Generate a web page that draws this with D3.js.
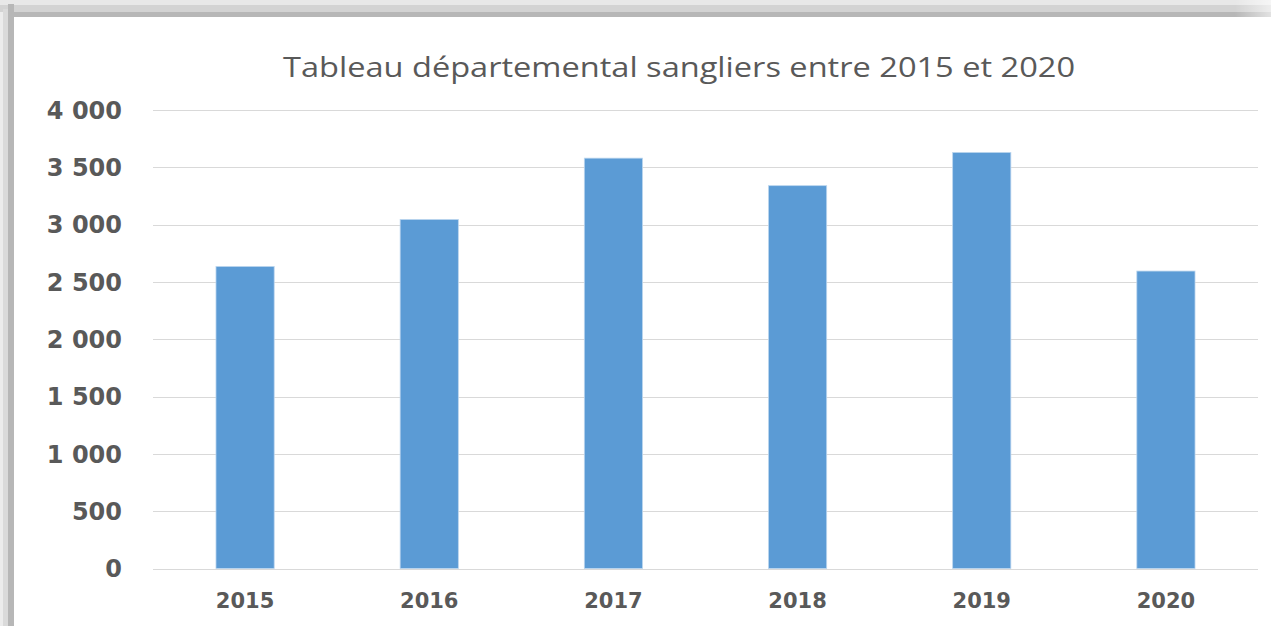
<!DOCTYPE html>
<html lang="fr">
<head>
  <meta charset="UTF-8">
  <title>Tableau départemental sangliers entre 2015 et 2020</title>
  <script src="https://d3js.org/d3.v7.min.js"></script>
  <style>
    html, body {
      margin: 0;
      padding: 0;
      background: #fff;
      overflow: hidden;
    }
    .chart-title {
      font-family: 'Open Sans', sans-serif;
      font-size: 28px;
      fill: #595959;
      text-anchor: middle;
    }
    .axis-label {
      font-family: 'DejaVu Sans', Verdana, sans-serif;
      font-weight: bold;
      fill: #595959;
    }
  </style>
</head>
<body>
  <svg width="1271" height="626"></svg>

  <script>
    // data
    const years = ["2015", "2016", "2017", "2018", "2019", "2020"];
    const sangliers = [2635, 3045, 3580, 3340, 3630, 2595];
    const yTicks = [0, 500, 1000, 1500, 2000, 2500, 3000, 3500, 4000];

    const svg = d3.select("svg"),
      width = +svg.attr("width"),
      height = +svg.attr("height");

    // frame shadow (top and left edges)
    const frame = svg.append("g");
    [[0, 5, "#e8e8e8"], [5, 7, "#d3d3d3"], [12, 5, "#b7b7b7"]].forEach(([y, h, c]) => {
      frame.append("rect").attr("x", 0).attr("y", y).attr("width", width).attr("height", h).attr("fill", c);
    });
    [[0, 3, "#ececec"], [3, 5, "#dadada"], [8, 6, "#b7b7b7"]].forEach(([x, w, c]) => {
      frame.append("rect").attr("x", x).attr("y", Math.max(0, 12 - x)).attr("width", w).attr("height", height).attr("fill", c);
    });
    // fade at the top right end
    const fade = svg.append("defs").append("linearGradient").attr("id", "fade");
    fade.append("stop").attr("offset", "0%").attr("stop-color", "#fff").attr("stop-opacity", 0);
    fade.append("stop").attr("offset", "100%").attr("stop-color", "#fff").attr("stop-opacity", 0.6);
    frame.append("rect").attr("x", 1235).attr("y", 0).attr("width", 36).attr("height", 17).attr("fill", "url(#fade)");

    const margin = {left: 153, right: 13, top: 110, bottom: 57.5};

    const x = d3.scaleBand()
      .domain(years)
      .range([margin.left, width - margin.right])
      .paddingInner(0.684)
      .paddingOuter(0.342);

    const y = d3.scaleLinear()
      .domain([0, 4000])
      .range([height - margin.bottom, margin.top]);

    const fmt = d3.formatLocale({decimal: ",", thousands: "\u00a0", grouping: [3], currency: ["", " €"]}).format(",d");

    // gridlines
    svg.append("g")
      .selectAll("line")
      .data(yTicks)
      .enter().append("line")
        .attr("x1", margin.left)
        .attr("x2", width - margin.right)
        .attr("y1", d => Math.round(y(d)) + 0.5)
        .attr("y2", d => Math.round(y(d)) + 0.5)
        .attr("stroke", "#d9d9d9")
        .attr("stroke-width", 1);

    // y labels
    svg.append("g")
      .selectAll("text")
      .data(yTicks)
      .enter().append("text")
        .attr("class", "axis-label")
        .attr("x", 122)
        .attr("y", d => y(d))
        .attr("dy", "0.36em")
        .attr("text-anchor", "end")
        .style("font-size", "24px")
        .text(d => fmt(d));

    // bars
    svg.append("g")
      .selectAll("rect")
      .data(years)
      .enter().append("rect")
        .attr("x", d => x(d))
        .attr("y", (d, i) => y(sangliers[i]))
        .attr("width", x.bandwidth())
        .attr("height", (d, i) => y(0) - y(sangliers[i]))
        .attr("fill", "#5b9bd5")
        .attr("stroke", "#bcd6ee")
        .attr("stroke-width", 0.8);

    // x labels
    svg.append("g")
      .selectAll("text")
      .data(years)
      .enter().append("text")
        .attr("class", "axis-label")
        .attr("x", d => x(d) + x.bandwidth() / 2)
        .attr("y", 608)
        .attr("text-anchor", "middle")
        .style("font-size", "21px")
        .text(d => d);

    // title
    svg.append("text")
      .attr("class", "chart-title")
      .attr("x", 679)
      .attr("y", 77)
      .attr("textLength", 792)
      .attr("lengthAdjust", "spacingAndGlyphs")
      .text("Tableau départemental sangliers entre 2015 et 2020");
  </script>
</body>
</html>
